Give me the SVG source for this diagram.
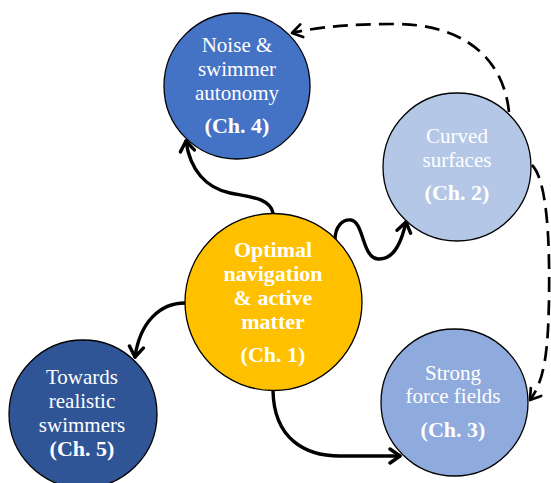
<svg xmlns="http://www.w3.org/2000/svg" width="551" height="483" viewBox="0 0 551 483">
<defs>
<style>
.node{stroke:#000;stroke-width:1.3}
.t{font-family:"Liberation Serif",serif;font-size:21px;fill:#fff;text-anchor:middle}
.b{font-family:"Liberation Serif",serif;font-size:22px;font-weight:bold;fill:#fff;text-anchor:middle}
.c{fill:none;stroke:#000;stroke-width:3.4;stroke-linecap:round}
.d{fill:none;stroke:#000;stroke-width:2.7;stroke-dasharray:15 8}
</style>
<marker id="ah" markerUnits="userSpaceOnUse" markerWidth="24" markerHeight="24" viewBox="-12 -12 24 24" refX="0" refY="0" orient="auto">
<path d="M-10,-7 L0,0 L-10,7" fill="none" stroke="#000" stroke-width="3.4" stroke-linecap="round" stroke-linejoin="round"/>
</marker>
<marker id="ahd" markerUnits="userSpaceOnUse" markerWidth="24" markerHeight="24" viewBox="-12 -12 24 24" refX="0" refY="0" orient="auto">
<path d="M-10,-6.5 L0,0 L-10,6.5" fill="none" stroke="#000" stroke-width="2.7" stroke-linecap="round" stroke-linejoin="round"/>
</marker>
</defs>
<g id="connectors">
<path class="c" d="M273,213 C270,198 250,197 230,193 C206,188 190,170 186,141" marker-end="url(#ah)"/>
<path class="c" d="M335,240 C335,226 343,219 351,220 C364,222 362,258 378,259 C395,260 402,240 406,222" marker-end="url(#ah)"/>
<path class="c" d="M185,303 C160,303 140,322 135,357" marker-end="url(#ah)"/>
<path class="c" d="M273,391 C274,438 304,456 340,456 L400,456" marker-end="url(#ah)"/>
<path class="d" d="M509,112 C503,55 460,24 395,24 C350,24 318,27 292,33" marker-end="url(#ahd)"/>
<path class="d" d="M532,165 C547,180 550,240 549,300 C548,350 545,380 530,400" marker-end="url(#ahd)"/>
</g>
<g id="n4">
<circle class="node" cx="237" cy="86" r="73" fill="#4472C4"/>
<text class="t" x="237" y="52">Noise &amp;</text>
<text class="t" x="237" y="76">swimmer</text>
<text class="t" x="237" y="100">autonomy</text>
<text class="b" x="237" y="133">(Ch. 4)</text>
</g>
<g id="n2">
<circle class="node" cx="457" cy="167" r="74" fill="#B4C7E7"/>
<text class="t" x="457" y="143">Curved</text>
<text class="t" x="457" y="167">surfaces</text>
<text class="b" x="457" y="200">(Ch. 2)</text>
</g>
<g id="n1">
<circle class="node" cx="273.5" cy="302" r="88.5" fill="#FFC000"/>
<text class="b" x="273" y="257">Optimal</text>
<text class="b" x="273" y="281">navigation</text>
<text class="b" x="273" y="305">&amp; active</text>
<text class="b" x="273" y="329">matter</text>
<text class="b" x="273" y="362">(Ch. 1)</text>
</g>
<g id="n5">
<circle class="node" cx="83" cy="414" r="74" fill="#2F5597"/>
<text class="t" x="82" y="384">Towards</text>
<text class="t" x="82" y="408">realistic</text>
<text class="t" x="82" y="432">swimmers</text>
<text class="b" x="82" y="456">(Ch. 5)</text>
</g>
<g id="n3">
<circle class="node" cx="454.5" cy="402.5" r="73.5" fill="#8FAADC"/>
<text class="t" x="453" y="380">Strong</text>
<text class="t" x="453" y="403">force fields</text>
<text class="b" x="453" y="437">(Ch. 3)</text>
</g>
</svg>
